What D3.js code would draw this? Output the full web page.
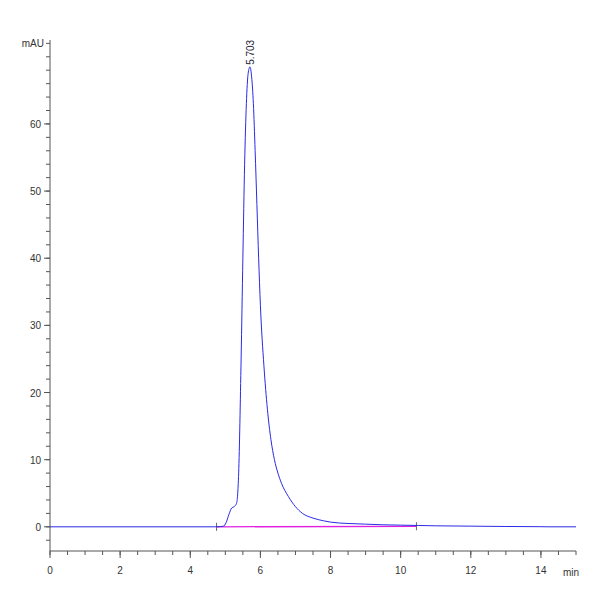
<!DOCTYPE html><html><head><script src="https://cdn.jsdelivr.net/npm/d3@7"></script>
<style>body{margin:0;background:#fff}</style></head><body><svg id="c" width="600" height="600"></svg><script>
const times=[0,4.7,4.95,5.02,5.1,5.18,5.25,5.32,5.38,5.45,5.5,5.55,5.6,5.65,5.703,5.75,5.8,5.85,5.9,5.95,6.0,6.1,6.2,6.3,6.4,6.5,6.6,6.8,7.0,7.2,7.5,7.8,8.0,8.5,9.0,9.5,10.0,10.5,11,12,13,14,14.2,15];
const values=[0,0,0.1,0.6,1.8,2.8,3.0,3.5,8,25,40,54,63,67.5,68.5,67,63,56,48,40,33,24,17.5,13,10,8,6.5,4.5,3.0,2.0,1.3,0.9,0.7,0.5,0.4,0.3,0.25,0.2,0.15,0.1,0.05,0.02,0,0];
const xTicks=[0,2,4,6,8,10,12,14], yTicks=[0,10,20,30,40,50,60];
const baseline=[[4.75,0],[10.45,0.08]];
const svg=d3.select("#c");
const x=d3.scaleLinear().domain([0,15]).range([50,576]);
const y=d3.scaleLinear().domain([-3.6,72.5]).range([551,40]);
const g=svg.append("g").attr("font-family","Liberation Sans, Arial").attr("font-size",10);
// axes
g.append("line").attr("x1",50).attr("x2",50).attr("y1",40).attr("y2",551).attr("stroke","#555");
g.append("line").attr("x1",50).attr("x2",576).attr("y1",551).attr("y2",551).attr("stroke","#555");
d3.range(-2,73,2).forEach(v=>g.append("line").attr("x1",46).attr("x2",50).attr("y1",y(v)).attr("y2",y(v)).attr("stroke","#555"));
yTicks.forEach(v=>{g.append("line").attr("x1",44).attr("x2",50).attr("y1",y(v)).attr("y2",y(v)).attr("stroke","#555");
 g.append("text").attr("x",41).attr("y",y(v)+4).attr("text-anchor","end").text(v).attr("fill","#333");});
d3.range(0,15.01,0.5).forEach(v=>g.append("line").attr("x1",x(v)).attr("x2",x(v)).attr("y1",551).attr("y2",555).attr("stroke","#555"));
xTicks.forEach(v=>{g.append("line").attr("x1",x(v)).attr("x2",x(v)).attr("y1",551).attr("y2",558).attr("stroke","#555");
 g.append("text").attr("x",x(v)).attr("y",574).attr("text-anchor","middle").text(v).attr("fill","#333");});
g.append("text").attr("x",563).attr("y",576).text("min").attr("fill","#333");
g.append("text").attr("x",44).attr("y",47).attr("text-anchor","end").text("mAU").attr("fill","#333");
// baseline
g.append("line").attr("x1",x(baseline[0][0])).attr("x2",x(baseline[1][0])).attr("y1",y(baseline[0][1])).attr("y2",y(baseline[1][1])).attr("stroke","#e020e0").attr("stroke-width",1.3);
[baseline[0],baseline[1]].forEach(p=>g.append("line").attr("x1",x(p[0])).attr("x2",x(p[0])).attr("y1",y(p[1])-4).attr("y2",y(p[1])+4).attr("stroke","#666"));
// trace
const line=d3.line().x((d,i)=>x(times[i])).y(d=>y(d)).curve(d3.curveMonotoneX);
g.append("path").attr("d",line(values)).attr("fill","none").attr("stroke","#2a2ae6").attr("stroke-width",1);
// peak label
g.append("text").attr("transform",`translate(${x(5.703)+4},${y(68.5)-2}) rotate(-90)`).text("5.703").attr("fill","#223").attr("font-size",10);
</script></body></html>
